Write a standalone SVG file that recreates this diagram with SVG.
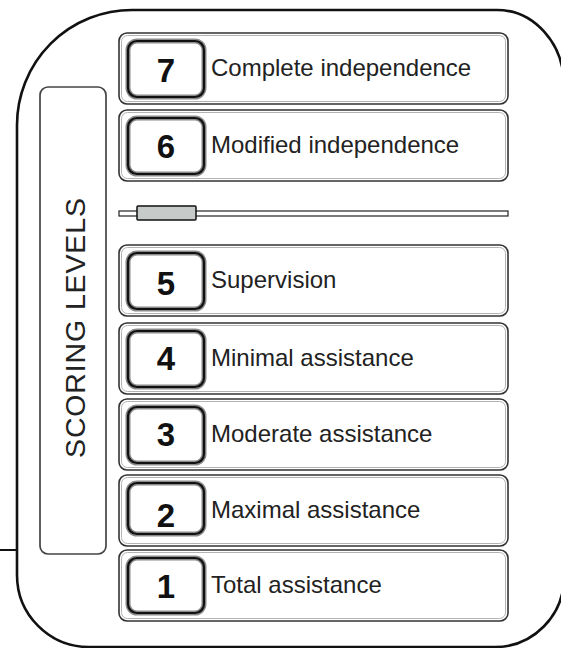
<svg xmlns="http://www.w3.org/2000/svg" width="561" height="648" viewBox="0 0 561 648">
<style>
  .frame{fill:none;stroke:#111;stroke-width:2.6}
  .row{fill:#fff;stroke:#333;stroke-width:1.6}
  .rowin{fill:none;stroke:#aaa;stroke-width:0.9}
  .nbo{fill:#fff;stroke:#8a8a8a;stroke-width:5}
  .nbi{fill:none;stroke:#111;stroke-width:2.2}
  .num{font-family:"Liberation Sans",Arial,sans-serif;font-weight:bold;font-size:33px;fill:#111;text-anchor:middle}
  .lbl{font-family:"Liberation Sans",Arial,sans-serif;font-size:24px;fill:#222}
  .side{font-family:"Liberation Sans",Arial,sans-serif;font-size:28.5px;fill:#222;text-anchor:middle}
</style>
<rect width="561" height="648" fill="#fff"/>
<g id="frame">
  <path class="frame" d="M132,10 L497,10 A67,75 0 0 1 564,85 L564,577 A69,70 0 0 1 495,647 L89,647 A72,72 0 0 1 17,575 L17,125 A115,115 0 0 1 132,10 Z"/>
  <line x1="0" y1="550" x2="17" y2="550" stroke="#111" stroke-width="2"/>
</g>
<g id="scoring-levels">
  <rect x="40" y="87" width="66" height="467" rx="8" fill="none" stroke="#444" stroke-width="1.7"/>
  <text class="side" transform="translate(84.5,328) rotate(-90)" textLength="260" lengthAdjust="spacing">SCORING LEVELS</text>
</g>
<g id="separator">
  <rect x="119" y="211" width="389" height="5" fill="#fff" stroke="#222" stroke-width="1.2"/>
  <rect x="137" y="206" width="59" height="14" rx="1" fill="#c6cbc9" stroke="#111" stroke-width="1.5"/>
</g>
<g id="level-7">
  <rect class="row" x="119" y="33" width="389" height="71" rx="8"/>
  <rect class="rowin" x="121.5" y="35.5" width="384" height="66" rx="6"/>
  <rect class="nbo" x="128" y="41" width="76" height="56" rx="9"/>
  <rect class="nbi" x="128" y="41" width="76" height="56" rx="9"/>
  <text class="num" x="166" y="82">7</text>
  <text class="lbl" x="211" y="76">Complete independence</text>
</g>
<g id="level-6">
  <rect class="row" x="119" y="110" width="389" height="71" rx="8"/>
  <rect class="rowin" x="121.5" y="112.5" width="384" height="66" rx="6"/>
  <rect class="nbo" x="128" y="118" width="76" height="56" rx="9"/>
  <rect class="nbi" x="128" y="118" width="76" height="56" rx="9"/>
  <text class="num" x="166" y="158">6</text>
  <text class="lbl" x="211" y="153">Modified independence</text>
</g>
<g id="level-5">
  <rect class="row" x="119" y="245" width="389" height="71" rx="8"/>
  <rect class="rowin" x="121.5" y="247.5" width="384" height="66" rx="6"/>
  <rect class="nbo" x="128" y="253" width="76" height="56" rx="9"/>
  <rect class="nbi" x="128" y="253" width="76" height="56" rx="9"/>
  <text class="num" x="166" y="295">5</text>
  <text class="lbl" x="211" y="288">Supervision</text>
</g>
<g id="level-4">
  <rect class="row" x="119" y="323" width="389" height="71" rx="8"/>
  <rect class="rowin" x="121.5" y="325.5" width="384" height="66" rx="6"/>
  <rect class="nbo" x="128" y="331" width="76" height="56" rx="9"/>
  <rect class="nbi" x="128" y="331" width="76" height="56" rx="9"/>
  <text class="num" x="166" y="370">4</text>
  <text class="lbl" x="211" y="366">Minimal assistance</text>
</g>
<g id="level-3">
  <rect class="row" x="119" y="399" width="389" height="71" rx="8"/>
  <rect class="rowin" x="121.5" y="401.5" width="384" height="66" rx="6"/>
  <rect class="nbo" x="128" y="407" width="76" height="56" rx="9"/>
  <rect class="nbi" x="128" y="407" width="76" height="56" rx="9"/>
  <text class="num" x="166" y="446">3</text>
  <text class="lbl" x="211" y="442">Moderate assistance</text>
</g>
<g id="level-2">
  <rect class="row" x="119" y="475" width="389" height="71" rx="8"/>
  <rect class="rowin" x="121.5" y="477.5" width="384" height="66" rx="6"/>
  <rect class="nbo" x="128" y="483" width="76" height="51" rx="9"/>
  <rect class="nbi" x="128" y="483" width="76" height="51" rx="9"/>
  <text class="num" x="166" y="527">2</text>
  <text class="lbl" x="211" y="518">Maximal assistance</text>
</g>
<g id="level-1">
  <rect class="row" x="119" y="550" width="389" height="71" rx="8"/>
  <rect class="rowin" x="121.5" y="552.5" width="384" height="66" rx="6"/>
  <rect class="nbo" x="128" y="558" width="76" height="55" rx="9"/>
  <rect class="nbi" x="128" y="558" width="76" height="55" rx="9"/>
  <text class="num" x="166" y="598">1</text>
  <text class="lbl" x="211" y="593">Total assistance</text>
</g>
</svg>
